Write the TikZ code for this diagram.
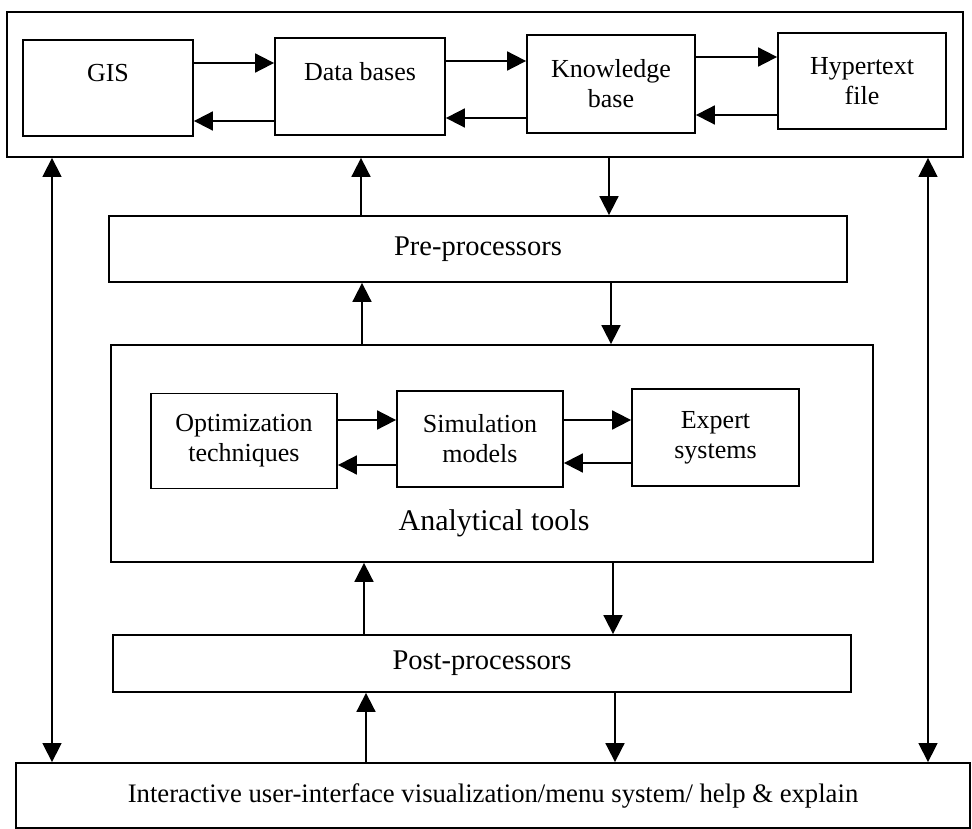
\documentclass[tikz,border=0pt]{standalone}
\usepackage{fontspec}
\setmainfont{Liberation Serif}
\usetikzlibrary{arrows.meta}

\tikzset{
  box/.style={draw, line width=1.8pt, rectangle, inner sep=0pt, align=center},
  boxtxt/.style={font=\fontsize{26}{30}\selectfont},
  bartxt/.style={font=\fontsize{28.5}{34}\selectfont},
  arr/.style={line width=1.8pt, -{Triangle[length=19pt,width=19pt]}},
  longarr/.style={line width=1.4pt, {Triangle[length=19pt,width=19pt]}-{Triangle[length=19pt,width=19pt]}}
}

\begin{document}
\begin{tikzpicture}[x=1pt,y=-1pt]
\useasboundingbox (0,0) rectangle (972,829);

% data layer
\node[box, minimum width=956pt, minimum height=145pt] (top) at (485,84.5) {};
\node[box, boxtxt, minimum width=170pt, minimum height=96pt] (gis) at (108,88) {GIS\\ ~};
\node[box, boxtxt, minimum width=170pt, minimum height=97pt] (db) at (360,86.5) {Data bases\\ ~};
\node[box, boxtxt, minimum width=168pt, minimum height=98pt] (kb) at (611,84) {Knowledge\\ base};
\node[box, boxtxt, minimum width=168pt, minimum height=96pt] (ht) at (862,81) {Hypertext\\ file};

\draw[arr] (gis.east |- 0,63) -- (db.west |- 0,63);
\draw[arr] (db.west |- 0,121) -- (gis.east |- 0,121);
\draw[arr] (db.east |- 0,61) -- (kb.west |- 0,61);
\draw[arr] (kb.west |- 0,118) -- (db.east |- 0,118);
\draw[arr] (kb.east |- 0,57) -- (ht.west |- 0,57);
\draw[arr] (ht.west |- 0,115) -- (kb.east |- 0,115);

% pre-processors
\node[box, bartxt, minimum width=738pt, minimum height=66pt] (pre) at (478,249) {Pre-processors};
\draw[arr] (pre.north -| 361,0) -- (top.south -| 361,0);
\draw[arr] (top.south -| 609,0) -- (pre.north -| 609,0);

% analytical tools
\node[box, minimum width=762pt, minimum height=217pt] (anal) at (492,453.5) {};
\node[font=\fontsize{30}{36}\selectfont, inner sep=0pt] (analtxt) at (494,523) {Analytical tools};
\node[box, boxtxt, minimum width=186pt, minimum height=95pt] (opt) at (244,441) {Optimization\\ techniques};
\node[box, boxtxt, minimum width=166pt, minimum height=96pt] (sim) at (480,439) {Simulation\\ models};
\node[box, boxtxt, minimum width=167pt, minimum height=97pt] (exp) at (715.5,437.5) {Expert\\ systems};

\draw[arr] (opt.east |- 0,420) -- (sim.west |- 0,420);
\draw[arr] (sim.west |- 0,465) -- (opt.east |- 0,465);
\draw[arr] (sim.east |- 0,420) -- (exp.west |- 0,420);
\draw[arr] (exp.west |- 0,463) -- (sim.east |- 0,463);

\draw[arr] (anal.north -| 362,0) -- (pre.south -| 362,0);
\draw[arr] (pre.south -| 611,0) -- (anal.north -| 611,0);

% post-processors
\node[box, bartxt, minimum width=738pt, minimum height=57pt] (post) at (482,663.5) {Post-processors};
\draw[arr] (post.north -| 364,0) -- (anal.south -| 364,0);
\draw[arr] (anal.south -| 613,0) -- (post.north -| 613,0);

% user interface
\node[box, font=\fontsize{26.7}{32}\selectfont, minimum width=954pt, minimum height=65pt] (ui) at (493,795.5) {Interactive user-interface visualization/menu system/ help \& explain};
\draw[arr] (ui.north -| 366,0) -- (post.south -| 366,0);
\draw[arr] (post.south -| 615,0) -- (ui.north -| 615,0);

\draw[longarr] (ui.north -| 52,0) -- (top.south -| 52,0);
\draw[longarr] (ui.north -| 928,0) -- (top.south -| 928,0);
\end{tikzpicture}
\end{document}
